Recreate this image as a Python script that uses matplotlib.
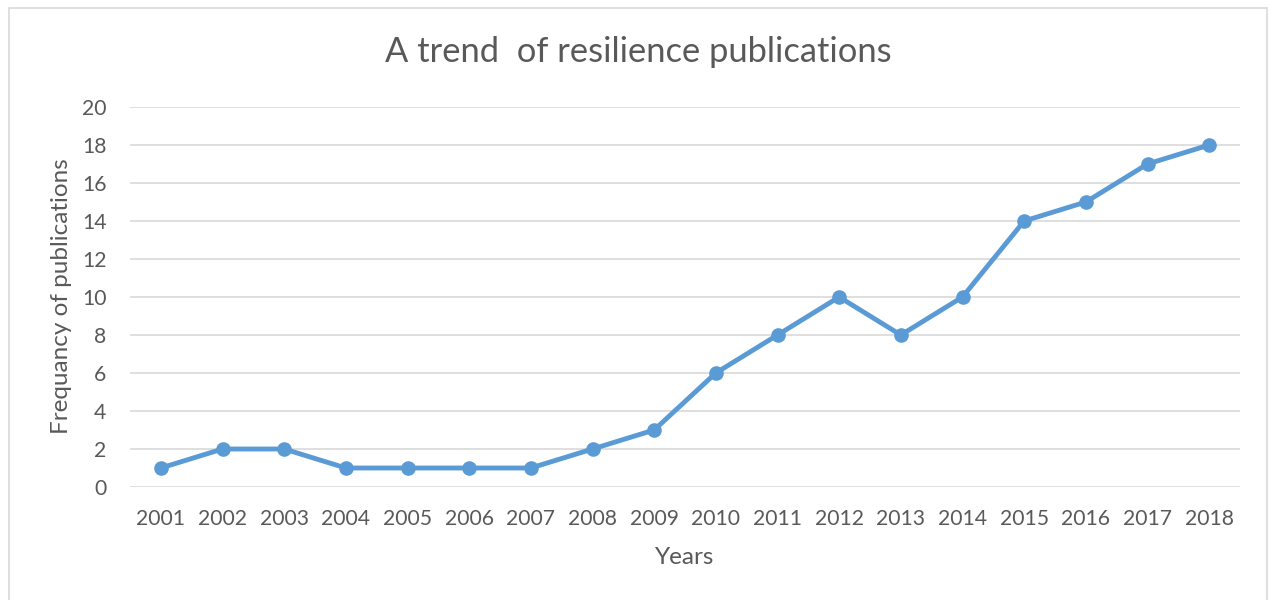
import matplotlib.pyplot as plt
from matplotlib.patches import Rectangle

# Datos
years = ['2001', '2002', '2003', '2004', '2005', '2006', '2007', '2008', '2009',
         '2010', '2011', '2012', '2013', '2014', '2015', '2016', '2017', '2018']
publications = [1, 2, 2, 1, 1, 1, 1, 2, 3, 6, 8, 10, 8, 10, 14, 15, 17, 18]
y_ticks = [0, 2, 4, 6, 8, 10, 12, 14, 16, 18, 20]

plt.rcParams['font.family'] = ['Lato', 'DejaVu Sans']
text_color = '#595959'

fig = plt.figure(figsize=(12.73, 6), dpi=100)
ax = fig.add_axes([130 / 1273, 1 - 487 / 600, 1110 / 1273, 380 / 600])

# Marco gris del grafico
fig.patches.append(Rectangle((9 / 1273, -0.01), 1258 / 1273, 1 - 8 / 600 + 0.01,
                             transform=fig.transFigure, fill=False,
                             edgecolor='#D9D9D9', linewidth=1.2))

x = range(len(years))
ax.plot(x, publications, color='#5B9BD5', linewidth=3.5, marker='o',
        markersize=9.5, zorder=3)

ax.set_xlim(-0.5, len(years) - 0.5)
ax.set_ylim(0, 20)
ax.set_xticks(list(x))
ax.set_xticklabels(years)
ax.set_yticks(y_ticks)
ax.grid(axis='y', color='#D9D9D9', linewidth=1.2)
ax.set_axisbelow(True)
for s in ax.spines.values():
    s.set_visible(False)
ax.tick_params(length=0, labelsize=15.2, colors=text_color)
ax.tick_params(axis='x', pad=16)
ax.tick_params(axis='y', pad=17)

fig.text(685 / 1273, 1 - 557 / 600, 'Years', fontsize=17.5, color=text_color,
         ha='center', va='center')
fig.text(62 / 1273, 1 - 296 / 600, 'Frequancy of publications', fontsize=17.5,
         color=text_color, ha='center', va='center', rotation=90)
fig.text(638 / 1273, 1 - 52 / 600, 'A trend  of resilience publications',
         fontsize=24.8, color=text_color, ha='center', va='center')

plt.savefig('out.png', dpi=100)
